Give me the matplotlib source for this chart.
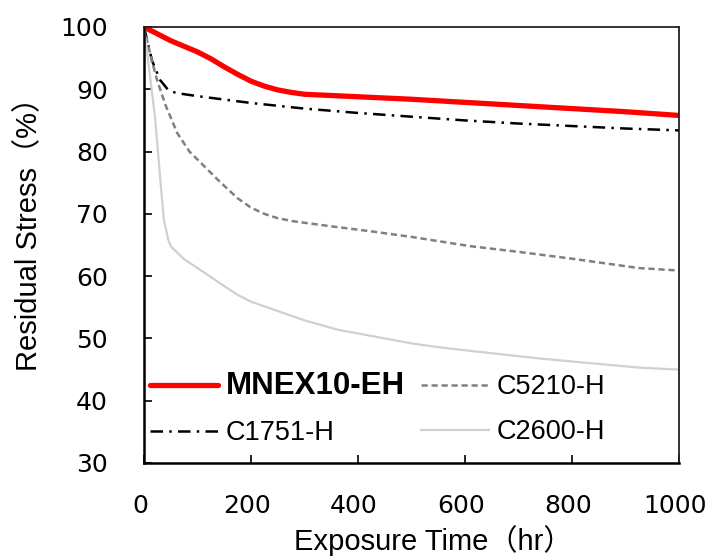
import matplotlib
matplotlib.use("Agg")
import matplotlib.pyplot as plt
import matplotlib.transforms as mtransforms

# ---- data ----
mnex_t = [0, 50, 100, 125, 150, 175, 200, 225, 250, 275, 300, 400, 500, 600, 700, 800, 900, 1000]
mnex_v = [100, 97.8, 96.0, 94.9, 93.6, 92.4, 91.3, 90.5, 89.9, 89.5, 89.2, 88.8, 88.4, 87.9, 87.4, 86.9, 86.4, 85.8]

c1751_t = [0, 15, 30, 45, 60, 100, 200, 300, 400, 500, 600, 700, 800, 900, 1000]
c1751_v = [100, 94.6, 91.5, 89.9, 89.4, 88.9, 87.8, 86.9, 86.2, 85.6, 85.0, 84.5, 84.1, 83.7, 83.4]

c5210_t = [0, 12, 24, 40, 62, 85, 112, 140, 175, 200, 225, 250, 280, 350, 424, 500, 611, 700, 800, 925, 1000]
c5210_v = [100, 95.5, 91.6, 87.5, 83.0, 80.0, 77.7, 75.3, 72.5, 71.0, 70.0, 69.3, 68.8, 68.0, 67.2, 66.3, 64.8, 63.9, 62.8, 61.3, 60.9]

c2600_t = [0, 10, 21, 30, 37, 45, 50, 75, 100, 150, 175, 200, 300, 362, 400, 500, 550, 600, 737, 800, 928, 1000]
c2600_v = [100, 93.0, 85.2, 76.0, 69.1, 66.0, 64.8, 62.7, 61.3, 58.4, 57.0, 55.9, 52.9, 51.4, 50.8, 49.2, 48.6, 48.1, 46.8, 46.3, 45.3, 45.0]

x_ticks = [0, 200, 400, 600, 800, 1000]
y_ticks = [30, 40, 50, 60, 70, 80, 90, 100]

x_label = "Exposure Time（hr）"
y_label = "Residual Stress（%）"

# ---- figure ----
fig = plt.figure(figsize=(7.10, 5.56), dpi=100)
ax = fig.add_axes([144 / 710, 1 - 463 / 556, (679 - 144) / 710, (463 - 27) / 556])

l1, = ax.plot(mnex_t, mnex_v, color="#FF0000", lw=3.8, solid_capstyle="round",
              solid_joinstyle="round", label="MNEX10-EH")
l2, = ax.plot(c1751_t, c1751_v, color="black", lw=1.8, dashes=(5, 2.5, 1, 2.5), label="C1751-H")
l3, = ax.plot(c5210_t, c5210_v, color="#808080", lw=1.8, dashes=(2.5, 1.5), label="C5210-H")
l4, = ax.plot(c2600_t, c2600_v, color="#D0D0D0", lw=1.6, solid_joinstyle="round", label="C2600-H")

ax.set_xlim(0, 1000)
ax.set_ylim(30, 100)
ax.set_xticks(x_ticks)
ax.set_yticks(y_ticks)

ax.tick_params(axis="both", direction="in", length=6, width=1.2, labelsize=18)
ax.tick_params(axis="y", pad=26)
ax.tick_params(axis="x", pad=22)
for lab in ax.get_xticklabels() + ax.get_yticklabels():
    lab.set_family("DejaVu Sans")
# Excel-like slight left offset of x tick labels
offset = mtransforms.ScaledTranslation(-4 / 100, 0, fig.dpi_scale_trans)
for lab in ax.get_xticklabels():
    lab.set_transform(lab.get_transform() + offset)

for side in ["left", "bottom"]:
    ax.spines[side].set_linewidth(1.8)
    ax.spines[side].set_color("black")
for side in ["top", "right"]:
    ax.spines[side].set_linewidth(1.3)
    ax.spines[side].set_color("#222222")

lab_family = ["Liberation Sans", "Noto Sans CJK JP"]
ax.set_xlabel(x_label, fontsize=21, family=lab_family)
ax.set_ylabel(y_label, fontsize=21, family=lab_family)
ax.xaxis.set_label_coords(0.541, -0.142)
ax.yaxis.set_label_coords(-0.189, 0.541)

leg = ax.legend(handles=[l1, l2, l3, l4], ncol=2, loc="upper left",
                bbox_to_anchor=(0.011, 0.211), frameon=False,
                prop={"family": "Liberation Sans", "size": 19.5},
                handlelength=2.5, handletextpad=0.3, columnspacing=0.6,
                labelspacing=0.71, borderpad=0.0, borderaxespad=0.0)
txt = leg.get_texts()[0]
txt.set_fontweight("bold")
txt.set_fontsize(22.5)

fig.savefig("out.png", dpi=100)
